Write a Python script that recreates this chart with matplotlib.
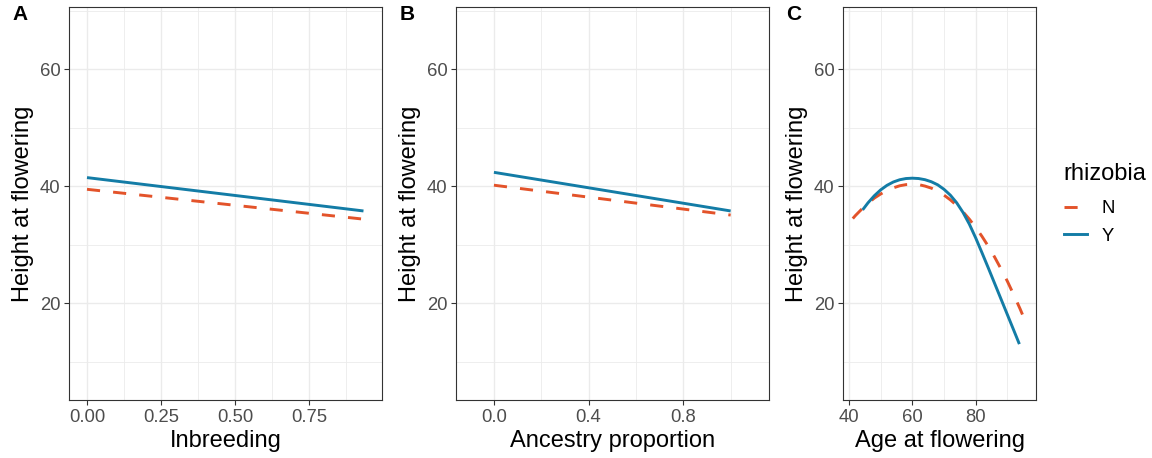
import numpy as np
import matplotlib
matplotlib.use("Agg")
import matplotlib.pyplot as plt
from matplotlib.lines import Line2D
from matplotlib.ticker import FixedLocator

plt.rcParams['font.family'] = ['Liberation Sans', 'DejaVu Sans']

# model predictions
inbreeding_x = [0.0, 0.934]
inbreeding_N = [39.5, 34.4]
inbreeding_Y = [41.5, 35.8]

ancestry_x = [0.0, 1.0]
ancestry_N = [40.2, 35.1]
ancestry_Y = [42.4, 35.8]

age_x_N = [41.2, 42, 44, 46, 48, 50, 52, 54, 56, 58, 60, 62, 64, 66, 68, 70,
           72, 74, 76, 78, 80, 82, 84, 86, 88, 90, 92, 94, 96.1]
age_N = [34.5, 35.0, 36.1, 37.1, 38.0, 38.7, 39.3, 39.75, 40.1, 40.3, 40.35, 40.3,
         40.05, 39.7, 39.2, 38.5, 37.7, 36.75, 35.65, 34.4, 33.0, 31.45, 29.75,
         27.9, 25.9, 23.8, 21.5, 19.1, 16.4]
age_x_Y = [44.3, 46, 48, 50, 52, 54, 56, 58, 60, 62, 64, 66, 68, 70, 72, 74, 76,
           78, 80, 82, 84, 86, 88, 90, 92, 93.8]
age_Y = [35.98, 37.19, 38.4, 39.4, 40.18, 40.75, 41.13, 41.34, 41.4, 41.34, 41.14,
         40.79, 40.27, 39.5, 38.5, 37.2, 35.55, 33.55, 31.2, 28.65, 26.05, 23.4,
         20.75, 18.1, 15.45, 13.05]

panel_labels = ["A", "B", "C"]
x_titles = ["Inbreeding", "Ancestry proportion", "Age at flowering"]
y_title = "Height at flowering"
legend_title = "rhizobia"
levels = ["N", "Y"]

col_N = '#e3532a'
col_Y = '#137ca6'
frame_col = '#333333'
grid_col = '#ebebeb'
W, H = 1152, 458

fig = plt.figure(figsize=(W / 100, H / 100), dpi=100)


def px_axes(left, right, top=6.7, bottom=400.0):
    return fig.add_axes([left / W, (H - bottom) / H, (right - left) / W, (bottom - top) / H])


def style(ax, xmajor, xminor, xlim, xfmt):
    ax.set_ylim(3.5, 70.7)
    ax.set_xlim(*xlim)
    ax.yaxis.set_major_locator(FixedLocator([20, 40, 60]))
    ax.yaxis.set_minor_locator(FixedLocator([10, 30, 50, 70]))
    ax.xaxis.set_major_locator(FixedLocator(xmajor))
    ax.xaxis.set_minor_locator(FixedLocator(xminor))
    ax.set_xticklabels([xfmt.format(v) for v in xmajor])
    ax.grid(which='major', color=grid_col, lw=1.0, zorder=0)
    ax.grid(which='minor', color=grid_col, lw=0.6, zorder=0)
    ax.set_axisbelow(True)
    for s in ax.spines.values():
        s.set_color(frame_col)
        s.set_linewidth(0.8)
    ax.tick_params(which='major', length=3.5, width=0.8, color=frame_col,
                   labelsize=13.3, labelcolor='#4d4d4d', pad=3)
    ax.tick_params(which='minor', length=0)
    ax.set_ylabel(y_title, fontsize=17, labelpad=4)


def draw(ax, xN, yN, xY, yY):
    ax.plot(xN, yN, color=col_N, lw=2.1, linestyle=(0, (4.5, 4.5)), zorder=3)
    ax.plot(xY, yY, color=col_Y, lw=2.1, zorder=3, solid_capstyle='butt')


axA = px_axes(69.3, 382.3)
draw(axA, inbreeding_x, inbreeding_N, inbreeding_x, inbreeding_Y)
style(axA, [0, 0.25, 0.5, 0.75], [0.125, 0.375, 0.625, 0.875], (-0.0598, 0.9976), "{:.2f}")

axB = px_axes(456.3, 769.0)
draw(axB, ancestry_x, ancestry_N, ancestry_x, ancestry_Y)
style(axB, [0, 0.4, 0.8], [0.2, 0.6, 1.0], (-0.159, 1.162), "{:.1f}")

axC = px_axes(843.3, 1036.0)
draw(axC, age_x_N, age_N, age_x_Y, age_Y)
style(axC, [40, 60, 80], [50, 70, 90], (38.2, 99.05), "{:.0f}")

for ax, t in zip([axA, axB, axC], x_titles):
    ax.set_xlabel(t, fontsize=17, labelpad=3)

for xp, lab in zip([12, 400, 786], panel_labels):
    fig.text(xp / W, 1 - 5 / H, lab, fontsize=15, fontweight='bold', va='top', ha='left')

# legend: title as text, keys below it (ggplot-like spacing)
fig.text(1063 / W, 1 - 180 / H, legend_title, fontsize=17, ha='left', va='baseline')
handles = [Line2D([], [], color=col_N, lw=2.1, linestyle=(0, (4.5, 4.5))),
           Line2D([], [], color=col_Y, lw=2.1)]
leg = fig.legend(handles, levels, loc='upper left',
                 bbox_to_anchor=(1064 / W, 1 - 200 / H), frameon=False,
                 borderpad=0, borderaxespad=0,
                 fontsize=13.3, handlelength=1.25,
                 handletextpad=0.8, labelspacing=0.58)

fig.savefig("out.png", dpi=100)
